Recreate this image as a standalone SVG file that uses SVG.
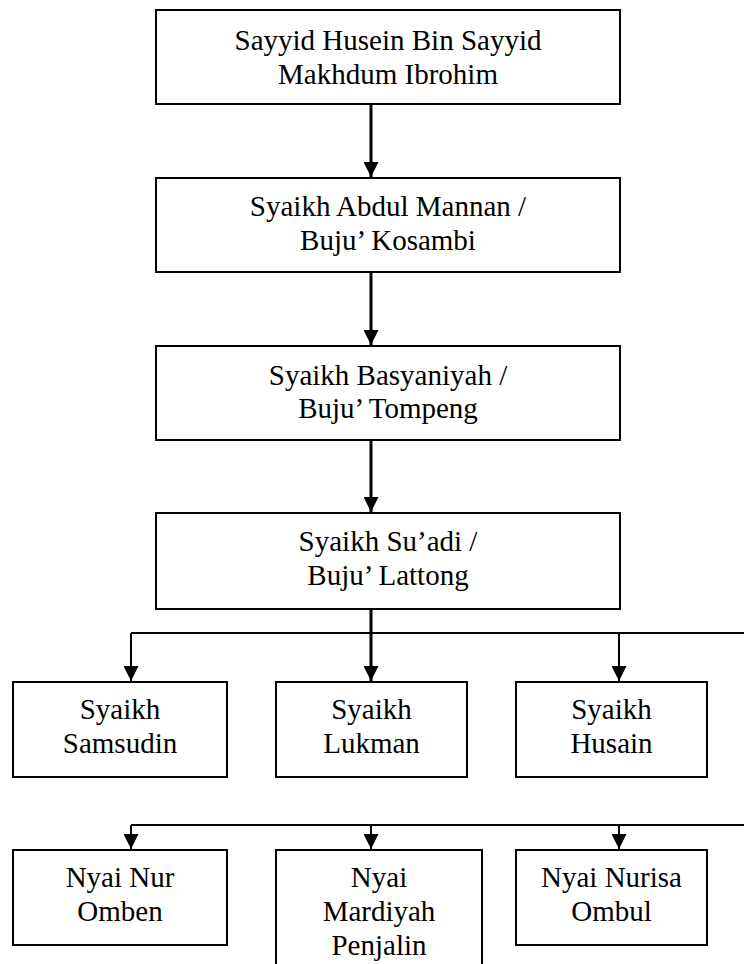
<svg xmlns="http://www.w3.org/2000/svg" width="744" height="964" viewBox="0 0 744 964">
  <style>
    .box { fill: #ffffff; stroke: #000000; stroke-width: 2; }
    .lbl { font-family: 'Liberation Serif', 'Times New Roman', serif; font-size: 29px; fill: #000000; text-anchor: middle; }
    .main { stroke: #000000; stroke-width: 3; fill: none; }
    .thin { stroke: #000000; stroke-width: 2; fill: none; }
  </style>
  <defs>
    <marker id="arrow" markerUnits="userSpaceOnUse" markerWidth="15" markerHeight="15" refX="15" refY="7.5" orient="auto">
      <path d="M0,0 L15,7.5 L0,15 Z" fill="#000000"/>
    </marker>
  </defs>
  <rect width="744" height="964" fill="#ffffff"/>

  <g id="connectors">
    <line class="main" x1="371" y1="105" x2="371" y2="177" marker-end="url(#arrow)"/>
    <line class="main" x1="371" y1="273" x2="371" y2="345" marker-end="url(#arrow)"/>
    <line class="main" x1="371" y1="441" x2="371" y2="512" marker-end="url(#arrow)"/>
    <line class="main" x1="371" y1="610" x2="371" y2="681" marker-end="url(#arrow)"/>
    <path class="thin" d="M131,633 H744"/>
    <line class="thin" x1="131" y1="633" x2="131" y2="681" marker-end="url(#arrow)"/>
    <line class="thin" x1="619" y1="633" x2="619" y2="681" marker-end="url(#arrow)"/>
    <path class="thin" d="M131,825 H744"/>
    <line class="thin" x1="131" y1="825" x2="131" y2="849" marker-end="url(#arrow)"/>
    <line class="thin" x1="371" y1="825" x2="371" y2="849" marker-end="url(#arrow)"/>
    <line class="thin" x1="619" y1="825" x2="619" y2="849" marker-end="url(#arrow)"/>
  </g>

  <g id="n1">
    <rect class="box" x="156" y="10" width="464" height="94"/>
    <text class="lbl" x="388" y="50">Sayyid Husein Bin Sayyid</text>
    <text class="lbl" x="388" y="84">Makhdum Ibrohim</text>
  </g>
  <g id="n2">
    <rect class="box" x="156" y="178" width="464" height="94"/>
    <text class="lbl" x="388" y="216">Syaikh Abdul Mannan /</text>
    <text class="lbl" x="388" y="250">Buju’ Kosambi</text>
  </g>
  <g id="n3">
    <rect class="box" x="156" y="346" width="464" height="94"/>
    <text class="lbl" x="388" y="385">Syaikh Basyaniyah /</text>
    <text class="lbl" x="388" y="418">Buju’ Tompeng</text>
  </g>
  <g id="n4">
    <rect class="box" x="156" y="513" width="464" height="96"/>
    <text class="lbl" x="388" y="551">Syaikh Su’adi /</text>
    <text class="lbl" x="388" y="585">Buju’ Lattong</text>
  </g>

  <g id="n5">
    <rect class="box" x="13" y="682" width="214" height="95"/>
    <text class="lbl" x="120" y="719">Syaikh</text>
    <text class="lbl" x="120" y="753">Samsudin</text>
  </g>
  <g id="n6">
    <rect class="box" x="276" y="682" width="191" height="95"/>
    <text class="lbl" x="371.5" y="719">Syaikh</text>
    <text class="lbl" x="371.5" y="753">Lukman</text>
  </g>
  <g id="n7">
    <rect class="box" x="516" y="682" width="191" height="95"/>
    <text class="lbl" x="611.5" y="719">Syaikh</text>
    <text class="lbl" x="611.5" y="753">Husain</text>
  </g>

  <g id="n8">
    <rect class="box" x="13" y="850" width="214" height="95"/>
    <text class="lbl" x="120" y="887">Nyai Nur</text>
    <text class="lbl" x="120" y="921">Omben</text>
  </g>
  <g id="n9">
    <rect class="box" x="276" y="850" width="206" height="200"/>
    <text class="lbl" x="379" y="887">Nyai</text>
    <text class="lbl" x="379" y="921">Mardiyah</text>
    <text class="lbl" x="379" y="955">Penjalin</text>
  </g>
  <g id="n10">
    <rect class="box" x="516" y="850" width="191" height="95"/>
    <text class="lbl" x="611.5" y="887">Nyai Nurisa</text>
    <text class="lbl" x="611.5" y="921">Ombul</text>
  </g>
</svg>
